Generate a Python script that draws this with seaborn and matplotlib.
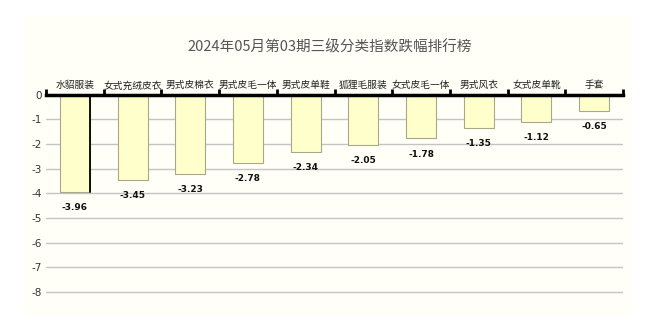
import matplotlib
matplotlib.use("Agg")
import matplotlib.pyplot as plt
import matplotlib.patches as mpatches
import seaborn as sns
import pandas as pd
import numpy as np

title = "2024年05月第03期三级分类指数跌幅排行榜"
categories = ["水貂服装", "女式充绒皮衣", "男式皮棉衣", "男式皮毛一体", "男式皮单鞋",
              "狐狸毛服装", "女式皮毛一体", "男式风衣", "女式皮单靴", "手套"]
values = [-3.96, -3.45, -3.23, -2.78, -2.34, -2.05, -1.78, -1.35, -1.12, -0.65]
y_ticks = [0, -1, -2, -3, -4, -5, -6, -7, -8]

sns.set_theme(style="white")
plt.rcParams["font.family"] = ["Noto Sans CJK SC", "DejaVu Sans"]

df = pd.DataFrame({"category": categories, "value": values})

W, H = 659, 323
fig = plt.figure(figsize=(W / 100, H / 100), dpi=100)
fig.patch.set_facecolor("white")

# faint cream panel behind the chart
fig.patches.append(mpatches.Rectangle((25 / W, 1 - 315 / H), (632 - 25) / W, (315 - 15) / H,
                                      transform=fig.transFigure, facecolor="#fffff8",
                                      edgecolor="none", zorder=-10))

ax = fig.add_axes([46 / W, 1 - 304.5 / H, (623 - 46) / W, (304.5 - 94.5) / H])
ax.set_facecolor("none")

sns.barplot(data=df, x="category", y="value", ax=ax, color="#ffffcc",
            edgecolor="#a8a888", linewidth=0.8, width=0.52, saturation=1, zorder=3)

n = len(categories)
ax.set_xlim(-0.5, n - 0.5)
ax.set_ylim(-8.5, 0)

# the leading bar carries a dark right edge
first = ax.patches[0]
ax.plot([first.get_x() + first.get_width()] * 2, [0, first.get_y() + first.get_height()],
        color="black", linewidth=1.3, zorder=4)

# horizontal grid lines
for t in y_ticks[1:]:
    ax.axhline(t, color="#c4c4c4", linewidth=1, zorder=1)

ax.set_yticks(y_ticks)
ax.set_yticklabels([str(t) for t in y_ticks], fontsize=7.5, color="#333333",
                   family="DejaVu Sans")
ax.tick_params(axis="y", length=0, pad=3)

# category names along the top, zero line as a heavy top spine
ax.xaxis.tick_top()
ax.set_xticks(range(n))
ax.set_xticklabels(categories, fontsize=7, color="#222222")
ax.tick_params(axis="x", which="major", length=0, pad=3)
ax.set_xticks(np.arange(-0.5, n, 1.0), minor=True)
ax.tick_params(axis="x", which="minor", top=True, bottom=False, direction="out",
               length=4, width=2, color="black")
ax.set_xlabel("")
ax.set_ylabel("")

for s in ["left", "right", "bottom"]:
    ax.spines[s].set_visible(False)
ax.spines["top"].set_linewidth(2.5)
ax.spines["top"].set_color("black")
ax.spines["top"].set_zorder(5)

# value labels under each bar
for i, v in enumerate(values):
    ax.annotate(f"{v:.2f}", (i, v), xytext=(0, -8), textcoords="offset points",
                ha="center", va="top", fontsize=6.5, fontweight="bold",
                color="#111111", family="DejaVu Sans")

fig.text(0.5, 1 - 47 / H, title, ha="center", va="center", fontsize=10.5,
         color="#555555")

fig.savefig("out.png", dpi=100)
